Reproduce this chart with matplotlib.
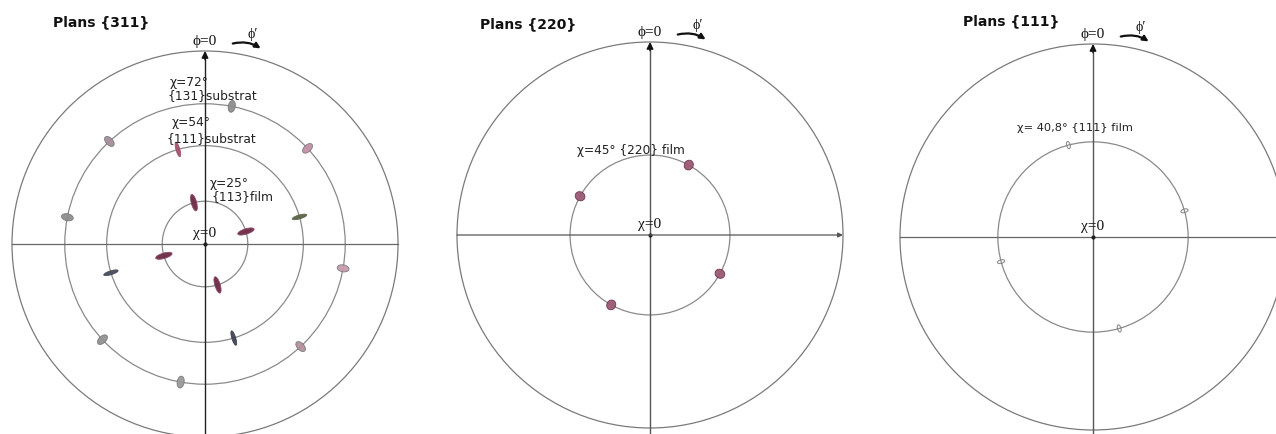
import numpy as np
import matplotlib
matplotlib.use("Agg")
import matplotlib.pyplot as plt
from matplotlib.patches import Circle, Ellipse, FancyArrowPatch

# ---------------- data (angles in degrees) ----------------
# Plans {311}
rings_311 = [25, 54, 72]
film113_chi = 25
film113_phi = [345, 73, 163, 254]
sub111_chi = 54
sub111_phi = [344, 74, 163, 253]
sub111_colors = ["#a4506c", "#5c6446", "#3e4252", "#474b5a"]
sub131_chi = 72
sub131_phi = [11, 47, 100, 137, 190, 227, 281, 317]
sub131_colors = ["#8e8e8e", "#c48ea4", "#c89cae", "#b4909e",
                 "#9a9a9a", "#929292", "#8e8e8e", "#a68e98"]

# Plans {220}
rings_220 = [45]
film220_chi = 45
film220_phi = [29, 119, 209, 299]

# Plans {111}
rings_111 = [40.8]
film111_chi = 40.8
film111_phi = [345, 74, 164, 255]

titles = ["Plans {311}", "Plans {220}", "Plans {111}"]

# ---------------- figure ----------------
W, H, DPI = 1276, 434, 100
R = 193  # outer circle radius in pixels
fig = plt.figure(figsize=(W / DPI, H / DPI), dpi=DPI)
fig.patch.set_facecolor("white")

SERIF = ["Liberation Serif", "DejaVu Serif"]
SANS = ["DejaVu Sans"]


def stereo(chi):
    return np.tan(np.radians(chi) / 2)


def equal_area(chi):
    return np.sqrt(2) * np.sin(np.radians(chi) / 2)


def polar_xy(chi, phi, proj):
    r = proj(np.asarray(chi, dtype=float))
    p = np.radians(np.asarray(phi, dtype=float))
    return r * np.sin(p), r * np.cos(p)


def make_axes(cx, cy):
    ax = fig.add_axes([(cx - R) / W, (H - cy - R) / H, 2 * R / W, 2 * R / H])
    ax.set_xlim(-1, 1)
    ax.set_ylim(-1, 1)
    ax.set_aspect("equal", adjustable="box")
    ax.axis("off")
    return ax


def frame(ax, rings, proj, title, title_xy, hline_arrow=False, vcolor="#555555"):
    # outer circle (chi = 90) and reference rings
    ax.add_patch(Circle((0, 0), 1.0, fill=False, ec="#7a7a7a", lw=0.9, clip_on=False))
    for chi in rings:
        ax.add_patch(Circle((0, 0), proj(chi), fill=False, ec="#8a8a8a", lw=0.9,
                            clip_on=False))
    # horizontal axis
    if hline_arrow:
        ax.annotate("", xy=(1.0, 0), xytext=(-1.0, 0), annotation_clip=False,
                    arrowprops=dict(arrowstyle="-|>", color="#555555", lw=0.9,
                                    mutation_scale=7, shrinkA=0, shrinkB=0))
    else:
        ax.plot([-1.0, 1.0], [0, 0], color="#666666", lw=0.9, clip_on=False)
    # vertical axis with arrow at phi = 0
    ax.plot([0, 0], [-1.05, 0.99], color=vcolor, lw=1.0, clip_on=False)
    ax.annotate("", xy=(0, 1.0), xytext=(0, 0.955), annotation_clip=False,
                arrowprops=dict(arrowstyle="-|>", color="#111111", lw=1.0,
                                mutation_scale=10, shrinkA=0, shrinkB=0))
    # labels at the poles
    ax.text(title_xy[0], title_xy[1], title, ha="left", va="center",
            fontsize=10, fontweight="bold", family=SANS, color="#111111",
            clip_on=False)
    ax.text(0.0, 1.05, "ϕ=0", ha="center", va="center", fontsize=11,
            family=SERIF, color="#111111", clip_on=False)
    ax.text(0.245, 1.085, "ϕ′", ha="center", va="center", fontsize=10,
            family=SERIF, color="#111111", clip_on=False)
    arr = FancyArrowPatch((0.13, 1.035), (0.30, 1.005),
                          connectionstyle="arc3,rad=-0.25", arrowstyle="-|>",
                          mutation_scale=8, lw=1.6, color="#111111",
                          clip_on=False)
    ax.add_patch(arr)
    ax.text(0.0, 0.055, "χ=0", ha="center", va="center", fontsize=11,
            family=SERIF, color="#111111", clip_on=False)
    ax.plot([0], [0], marker="o", ms=2, color="#222222", clip_on=False)


def peaks(ax, chi, phis, proj, length, width, colors, ec=None, fill=True, lw=0.6):
    xs, ys = polar_xy([chi] * len(phis), phis, proj)
    if isinstance(colors, str):
        colors = [colors] * len(phis)
    for x, y, phi, c in zip(xs, ys, phis, colors):
        ax.add_patch(Ellipse((x, y), length, width, angle=90 - phi,
                             fc=c if fill else "none",
                             ec=ec if ec else c, lw=lw, alpha=0.95,
                             clip_on=False, zorder=3))


# ---- Plans {311}
ax1 = make_axes(205, 244)
frame(ax1, rings_311, stereo, titles[0], (-0.79, 1.15), vcolor="#222222")
peaks(ax1, sub131_chi, sub131_phi, stereo, 0.062, 0.036, sub131_colors, ec="#777777")
peaks(ax1, sub111_chi, sub111_phi, stereo, 0.078, 0.02, sub111_colors)
peaks(ax1, film113_chi, film113_phi, stereo, 0.088, 0.028, "#6e2a48", ec="#8e4a66")
for (x, y, s) in [(-0.181, 0.839, "χ=72°"), (-0.192, 0.767, "{131}substrat"),
                  (-0.171, 0.627, "χ=54°"), (-0.197, 0.549, "{111}substrat"),
                  (0.026, 0.316, "χ=25°"), (0.036, 0.244, "{113}film")]:
    ax1.text(x, y, s, ha="left", va="center", fontsize=8.8, family=SANS,
             color="#222222", zorder=4)

# ---- Plans {220}
ax2 = make_axes(650, 235)
frame(ax2, rings_220, stereo, titles[1], (-0.88, 1.093), hline_arrow=True)
peaks(ax2, film220_chi, film220_phi, stereo, 0.052, 0.046, "#9a5a74", ec="#6e3050")
ax2.text(-0.378, 0.44, "χ=45° {220} film", ha="left", va="center", fontsize=8.7,
         family=SANS, color="#222222")

# ---- Plans {111}
ax3 = make_axes(1093, 237)
frame(ax3, rings_111, equal_area, titles[2], (-0.674, 1.119))
peaks(ax3, film111_chi, film111_phi, equal_area, 0.038, 0.018, "#888888",
      fill=False, lw=0.8)
ax3.text(-0.394, 0.565, "χ= 40,8° {111} film", ha="left", va="center", fontsize=8.2,
         family=SANS, color="#222222")

fig.savefig("out.png", dpi=DPI, facecolor="white")
